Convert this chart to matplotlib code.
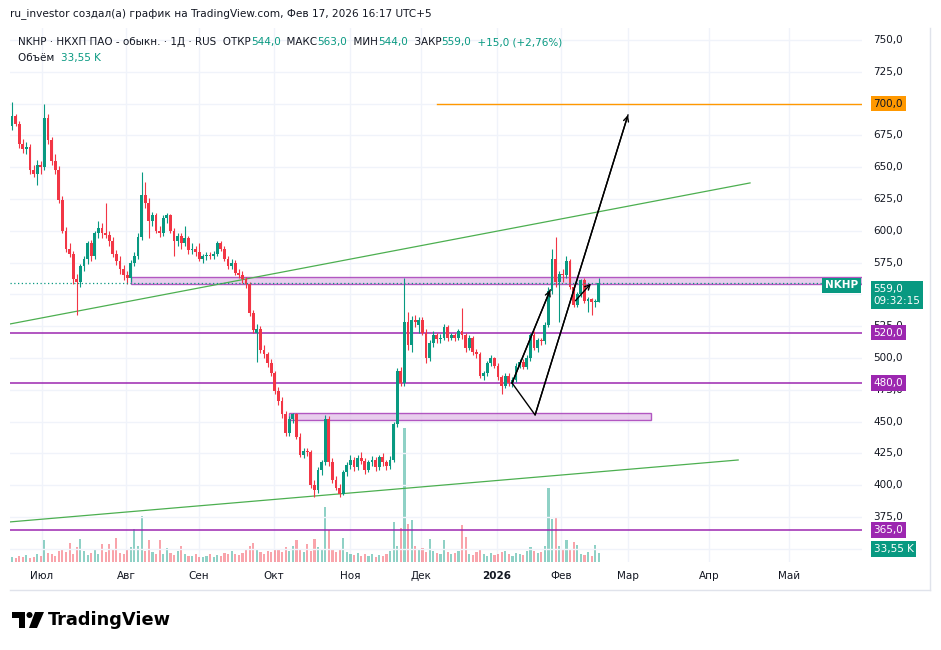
import numpy as np
import matplotlib.pyplot as plt
from matplotlib.patches import Rectangle, Polygon, Circle
from matplotlib.transforms import blended_transform_factory

plt.rcParams['font.family'] = ['DejaVu Sans']

# --- данные (дневные свечи NKHP) ---
opens = [682, 690, 684, 668, 664, 666, 648, 645, 652, 650,
         689, 671, 655, 648, 624, 600, 586, 582, 562, 560,
         572, 578, 590, 580, 598, 602, 598, 597, 592, 582,
         576, 570, 565, 563, 575, 580, 595, 628, 622, 608,
         612, 600, 598, 610, 612, 600, 592, 596, 590, 594,
         585, 586, 583, 578, 580, 581, 580, 582, 590, 586,
         578, 572, 575, 567, 565, 562, 558, 535, 520, 523,
         506, 503, 496, 488, 474, 466, 456, 441, 452, 456,
         438, 424, 427, 426, 400, 396, 412, 418, 452, 418,
         404, 398, 393, 410, 416, 420, 414, 421, 419, 412,
         418, 420, 414, 422, 418, 415, 420, 448, 490, 480,
         528, 510, 530, 526, 530, 520, 500, 512, 518, 515,
         516, 524, 516, 518, 516, 521, 518, 508, 516, 505,
         503, 486, 488, 496, 500, 494, 485, 478, 486, 480,
         483, 494, 497, 493, 500, 518, 508, 514, 513, 526,
         553, 578, 560, 566, 565, 576, 556, 542, 550, 561,
         545, 546, 544, 544]
highs = [701, 692, 686, 672, 670, 668, 652, 656, 655, 700,
         692, 674, 660, 651, 627, 603, 590, 584, 566, 574,
         580, 592, 593, 600, 608, 606, 622, 600, 595, 585,
         580, 573, 568, 577, 583, 598, 646, 638, 626, 615,
         614, 604, 612, 614, 613, 602, 598, 598, 604, 596,
         590, 588, 590, 582, 583, 583, 584, 592, 592, 588,
         580, 578, 577, 570, 568, 564, 560, 538, 527, 525,
         510, 505, 499, 490, 477, 469, 458, 454, 457, 457,
         441, 429, 429, 428, 404, 414, 420, 455, 454, 421,
         407, 401, 412, 418, 424, 422, 424, 426, 421, 420,
         423, 422, 424, 425, 420, 423, 450, 492, 493, 563,
         536, 533, 534, 532, 532, 523, 514, 521, 520, 519,
         527, 526, 520, 520, 523, 539, 520, 518, 517, 507,
         505, 490, 498, 502, 501, 496, 487, 488, 488, 485,
         496, 499, 499, 502, 520, 521, 516, 516, 528, 556,
         586, 595, 568, 570, 580, 578, 558, 552, 562, 563,
         548, 547, 546, 563]
lows = [679, 682, 665, 661, 660, 645, 642, 636, 645, 648,
        668, 652, 645, 622, 598, 583, 579, 558, 534, 556,
        568, 574, 576, 578, 594, 594, 594, 588, 579, 573,
        566, 561, 558, 560, 572, 578, 593, 618, 594, 604,
        598, 595, 596, 606, 598, 580, 588, 586, 588, 582,
        582, 580, 576, 575, 577, 578, 578, 580, 584, 576,
        570, 570, 565, 563, 559, 555, 533, 520, 497, 504,
        500, 493, 486, 472, 463, 453, 439, 439, 449, 436,
        422, 421, 423, 398, 391, 394, 408, 416, 415, 402,
        396, 391, 392, 407, 413, 411, 412, 417, 409, 410,
        415, 411, 412, 415, 412, 413, 418, 446, 478, 478,
        506, 505, 524, 520, 518, 496, 498, 509, 512, 512,
        514, 513, 514, 513, 514, 515, 505, 506, 502, 500,
        484, 483, 486, 494, 492, 483, 472, 476, 478, 477,
        481, 492, 491, 491, 498, 506, 505, 510, 511, 524,
        550, 556, 528, 560, 563, 554, 540, 540, 548, 543,
        536, 534, 540, 544]
closes = [690, 684, 668, 664, 666, 648, 645, 652, 650, 689,
          671, 655, 648, 624, 600, 586, 582, 562, 560, 572,
          578, 590, 580, 598, 602, 598, 597, 592, 582, 576,
          570, 565, 563, 575, 580, 595, 628, 622, 608, 612,
          600, 598, 610, 612, 600, 592, 596, 590, 594, 585,
          586, 583, 578, 580, 581, 580, 582, 590, 586, 578,
          572, 575, 567, 565, 562, 558, 535, 522, 523, 506,
          503, 496, 488, 474, 466, 456, 441, 452, 456, 438,
          424, 427, 426, 400, 396, 412, 418, 452, 418, 404,
          398, 393, 410, 416, 420, 414, 421, 419, 412, 418,
          420, 414, 422, 418, 415, 420, 448, 490, 480, 528,
          510, 530, 528, 530, 520, 500, 512, 518, 515, 516,
          524, 516, 518, 516, 521, 518, 508, 516, 505, 503,
          486, 488, 496, 500, 494, 485, 478, 486, 480, 483,
          494, 497, 493, 500, 518, 508, 514, 513, 526, 553,
          578, 560, 566, 565, 576, 556, 542, 550, 561, 545,
          546, 544, 544, 559]
volumes_k = [20, 15, 22, 18, 25, 16, 20, 30, 24, 82,
             35, 28, 22, 40, 45, 38, 71, 30, 55, 86,
             40, 26, 35, 48, 30, 67, 38, 67, 44, 90,
             32, 28, 45, 55, 123, 60, 172, 40, 82, 36,
             30, 82, 28, 52, 34, 26, 40, 60, 30, 24,
             22, 28, 20, 18, 24, 30, 20, 26, 22, 35,
             28, 40, 30, 26, 34, 45, 60, 71, 48, 38,
             30, 42, 36, 50, 44, 38, 56, 40, 60, 82,
             45, 38, 67, 40, 86, 55, 48, 205, 120, 50,
             36, 44, 90, 38, 30, 26, 34, 24, 30, 22,
             28, 20, 26, 24, 30, 40, 150, 60, 127, 500,
             142, 157, 60, 45, 52, 38, 86, 40, 34, 30,
             82, 36, 28, 34, 40, 138, 93, 30, 26, 38,
             45, 28, 24, 32, 26, 30, 36, 40, 28, 24,
             34, 30, 26, 40, 56, 42, 34, 38, 60, 276,
             160, 168, 60, 45, 82, 50, 75, 63, 30, 26,
             37, 22, 63, 33.55]

month_labels = ['Июл', 'Авг', 'Сен', 'Окт', 'Ноя', 'Дек', '2026', 'Фев', 'Мар', 'Апр', 'Май']
month_pos = [8.3, 31.7, 51.9, 72.8, 93.9, 113.6, 134.7, 152.5, 171.1, 193.6, 215.8]
grid_prices = list(range(350, 751, 25))
price_labels = [v for v in grid_prices if v not in (350, 550)]

# рисунки на графике (бар, цена)
level_lines = [520, 480, 365]
target_level = 700
target_start = 118
zones = [(33, 236.1, 558, 564), (77, 177.5, 451, 457)]   # (начало, конец, низ, верх)
trend_up = [(-0.6, 526.7), (205, 637.6)]
trend_low = [(-0.6, 371.1), (201.7, 419.8)]
wave = [(138.9, 480.3), (145.3, 455.2), (171.1, 691.0)]
leg_arrow = [(138.9, 480.3), (149.5, 553.5)]
small_arrow = [(156.5, 545.0), (160.8, 558.5)]

last_price = closes[-1]

UP = '#089981'
DOWN = '#f23645'
PURPLE = '#9c27b0'
GRID = '#f0f3fa'
TXT = '#131722'

W, H = 941, 650
fig = plt.figure(figsize=(W / 100, H / 100), dpi=100)


def frac(x0, y0, x1, y1):
    return [x0 / W, 1 - y1 / H, (x1 - x0) / W, (y1 - y0) / H]


ax_vol = fig.add_axes(frac(10, 28, 862, 562))
ax = fig.add_axes(frac(10, 28, 862, 562), sharex=ax_vol)
ax.set_xlim(-0.56, 236.1)
ax.set_ylim(339.6, 759.4)
ax_vol.set_ylim(0, 1992)
ax_vol.axis('off')
ax.axis('off')

x = np.arange(len(closes))
o = np.array(opens, float)
c = np.array(closes, float)
up = c >= o
cols = np.where(up, UP, DOWN)

# сетка
for m in month_pos:
    ax_vol.axvline(m, color=GRID, lw=1, zorder=0)
for v in grid_prices:
    ax.axhline(v, color=GRID, lw=1, zorder=0)

# объём
ax_vol.bar(x, volumes_k, width=0.6, color=cols, alpha=0.45, linewidth=0, zorder=2)

# зоны и уровни
for start, end, lo, hi in zones:
    ax.add_patch(Rectangle((start, lo), end - start, hi - lo, facecolor='#e1bee7',
                           alpha=0.75, edgecolor=PURPLE, lw=1, zorder=1))
for lv in level_lines:
    ax.axhline(lv, color=PURPLE, lw=1.1, zorder=2)
ax.plot([target_start, 236.1], [target_level, target_level], color='#ff9800', lw=1, zorder=2)
for ln in (trend_up, trend_low):
    ax.plot([p[0] for p in ln], [p[1] for p in ln], color='#4caf50', lw=0.9, zorder=2)

# свечи
ax.vlines(x, lows, highs, colors=cols, lw=0.8, zorder=3)
body = np.maximum(np.abs(c - o), 0.6)
ax.bar(x, body, bottom=np.minimum(o, c), width=0.75, color=cols, linewidth=0, zorder=4)

# линия текущей цены
ax.axhline(last_price, color=UP, lw=0.9, ls=(0, (1, 2)), zorder=5)

# черные стрелки
ax.plot([p[0] for p in wave], [p[1] for p in wave], color='black', lw=1, zorder=6)
ax.plot([p[0] for p in leg_arrow], [p[1] for p in leg_arrow], color='black', lw=1, zorder=6)
for seg in (wave[1:], leg_arrow, small_arrow):
    ax.annotate('', xy=seg[-1], xytext=seg[-2],
                arrowprops=dict(arrowstyle='->', color='black', lw=1,
                                mutation_scale=9, shrinkA=0, shrinkB=0), zorder=6)

# шкала цен
yt = blended_transform_factory(ax.transAxes, ax.transData)
for v in price_labels:
    ax.text(1.0135, v, f'{v},0', transform=yt, va='center', ha='left',
            fontsize=7.5, color=TXT, clip_on=False, zorder=7)


def price_box(v, s, fc, tc='white'):
    ax.text(1.0135, v, s, transform=yt, va='center', ha='left', fontsize=7.5,
            color=tc, clip_on=False, zorder=9, linespacing=1.25,
            bbox=dict(boxstyle='square,pad=0.28', fc=fc, ec='none'))


price_box(target_level, f'{target_level},0', '#ff9800', TXT)
for lv in level_lines:
    price_box(lv, f'{lv},0', PURPLE)
price_box(last_price - 9.5, f'{last_price},0\n09:32:15', UP)
ax_vt = blended_transform_factory(ax.transAxes, ax_vol.transData)
ax.text(1.0135, 47, '33,55 K', transform=ax_vt, va='center', ha='left', fontsize=7.5,
        color='white', clip_on=False, zorder=9,
        bbox=dict(boxstyle='square,pad=0.28', fc=UP, ec='none'))
ax.text(0.9955, last_price - 2, 'NKHP', transform=yt, va='center', ha='right',
        fontsize=7.5, fontweight='bold', color='white', zorder=9,
        bbox=dict(boxstyle='square,pad=0.28', fc=UP, ec='none'))

# временная шкала
xt = blended_transform_factory(ax.transData, ax.transAxes)
for m, lab in zip(month_pos, month_labels):
    ax.text(m, -0.026, lab, transform=xt, ha='center', va='center', fontsize=7.5,
            color=TXT, fontweight='bold' if lab == '2026' else 'normal', clip_on=False)

# рамка
fig.add_artist(plt.Line2D([10 / W, 930 / W], [1 - 590 / H] * 2, color='#e0e3eb', lw=1))
fig.add_artist(plt.Line2D([930 / W] * 2, [1 - 28 / H, 1 - 590 / H], color='#e0e3eb', lw=1))

# заголовки
fig.text(10 / W, 1 - 14 / H, 'ru_investor создал(а) график на TradingView.com, Фев 17, 2026 16:17 UTC+5',
         fontsize=7.6, color=TXT, va='center', ha='left')

parts = [('NKHP · НКХП ПАО - обыкн. · 1Д · RUS  ОТКР', TXT), ('544,0', UP),
         ('  МАКС', TXT), ('563,0', UP), ('  МИН', TXT), ('544,0', UP),
         ('  ЗАКР', TXT), ('559,0', UP), ('  +15,0 (+2,76%)', UP)]
t = fig.text(18 / W, 1 - 42 / H, parts[0][0], fontsize=7.5, color=parts[0][1],
             va='center', ha='left')
for s, col in parts[1:]:
    t = fig.add_artist(plt.Annotation(s, xy=(1, 0), xycoords=t, va='bottom', ha='left',
                                      fontsize=7.5, color=col))
t = fig.text(18 / W, 1 - 58 / H, 'Объём  ', fontsize=7.5, color=TXT, va='center', ha='left')
fig.add_artist(plt.Annotation('33,55 K', xy=(1, 0), xycoords=t, va='bottom', ha='left',
                              fontsize=7.5, color=UP))

# логотип TradingView
lax = fig.add_axes(frac(12, 611, 44, 629))
lax.set_xlim(0, 32)
lax.set_ylim(18, 0)
lax.axis('off')
lax.add_patch(Polygon([(0, 1), (13, 1), (13, 17), (7, 17), (7, 7), (0, 7)], color='black', lw=0))
lax.add_patch(Circle((17.5, 4), 3, color='black', lw=0))
lax.add_patch(Polygon([(23, 1), (32, 1), (25, 17), (17, 17)], color='black', lw=0))
fig.text(48 / W, 1 - 620 / H, 'TradingView', fontsize=12.8, fontweight='bold',
         color='black', va='center', ha='left')

fig.savefig('out.png', dpi=100, facecolor='white')
